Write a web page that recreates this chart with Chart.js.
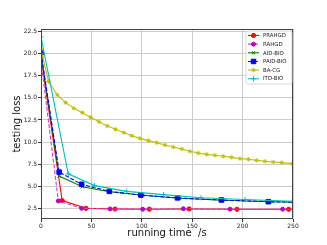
<!DOCTYPE html>
<html>
<head>
<meta charset="utf-8">
<script src="https://cdn.jsdelivr.net/npm/chart.js"></script>
<style>
  html, body { margin: 0; padding: 0; background: #fff; }
  canvas { display: block; }
</style>
</head>
<body>
<canvas id="lossChart" width="327" height="245"></canvas>
<script>
// values
const seriesNames = ['PRAHGD', 'RAHGD', 'AID-BIO', 'PAID-BIO', 'BA-CG', 'ITD-BIO'];

const prahgdTime = [0, 21, 44.6, 73.4, 107.5, 147, 194.4, 245.7, 290];
const prahgdLoss = [19.6, 3.37, 2.5, 2.42, 2.4, 2.43, 2.39, 2.39, 2.38];

const rahgdTime = [0, 17.2, 40.3, 68.5, 100.9, 141.2, 187.5, 239.7, 290];
const rahgdLoss = [19.2, 3.33, 2.5, 2.43, 2.4, 2.45, 2.4, 2.4, 2.38];

const aidTime = [0, 18, 41, 68, 101, 137, 180, 230, 260];
const aidLoss = [20.0, 6.15, 4.95, 4.38, 3.97, 3.64, 3.42, 3.24, 3.18];

const paidTime = [0, 18, 40.3, 67.8, 99, 135.4, 179, 225.5, 260];
const paidLoss = [20.1, 6.6, 5.22, 4.42, 4.0, 3.68, 3.44, 3.25, 3.18];

const bacgTime = [0, 7.5, 16.2, 24.4, 32.7, 41, 49.3, 57.5, 65.8, 74, 82.2, 90, 98.2, 106.5,
  114.8, 123, 131.3, 139.6, 147.8, 156, 164.4, 172.6, 180.9, 189.2, 197.4, 205.7, 214,
  222.2, 230.5, 238.8, 249.3];
const bacgLoss = [20.45, 16.85, 15.33, 14.46, 13.82, 13.33, 12.8, 12.3, 11.82, 11.44, 11.07,
  10.72, 10.42, 10.16, 9.93, 9.67, 9.44, 9.22, 8.95, 8.76, 8.61, 8.5, 8.39, 8.27, 8.12,
  8.05, 7.93, 7.82, 7.74, 7.67, 7.56];

const itdTime = [0, 27, 53, 85, 121.5, 158.7, 202.4, 249.3];
const itdLoss = [21.9, 6.4, 5.07, 4.42, 4.05, 3.7, 3.5, 3.28];

const seriesTime = [prahgdTime, rahgdTime, aidTime, paidTime, bacgTime, itdTime];
const seriesLoss = [prahgdLoss, rahgdLoss, aidLoss, paidLoss, bacgLoss, itdLoss];

const xTicks = [0, 50, 100, 150, 200, 250];
const yTicks = [2.5, 5, 7.5, 10, 12.5, 15, 17.5, 20, 22.5];

// look of each line (matplotlib r, m, g, b, y, c)
const looks = [
  { line: '#ff0000', marker: '#ff0000', point: 'circle', radius: 2.1, dash: [] },
  { line: '#d040d0', marker: '#bf00bf', point: 'circle', radius: 2, dash: [4, 1.8] },
  { line: '#008000', marker: '#008000', point: 'crossRot', radius: 2.3, dash: [] },
  { line: '#0000ff', marker: '#0000ff', point: 'rect', radius: 3.2, dash: [4, 1.8] },
  { line: '#bfbf00', marker: '#bfbf00', point: 'star', radius: 2.2, dash: [] },
  { line: '#00bfbf', marker: '#00bfbf', point: 'cross', radius: 2.6, dash: [] }
];

const font = 'DejaVu Sans';

const datasets = seriesNames.map((name, i) => ({
  label: name,
  data: seriesTime[i].map((t, j) => ({ x: t, y: seriesLoss[i][j] })),
  borderColor: looks[i].line,
  backgroundColor: looks[i].marker,
  borderWidth: 1.1,
  borderDash: looks[i].dash,
  pointStyle: looks[i].point,
  pointRadius: looks[i].radius,
  pointBackgroundColor: looks[i].marker,
  pointBorderColor: looks[i].marker,
  pointBorderWidth: 1,
  tension: 0,
  order: seriesNames.length - i
}));

// axes frame plus a matplotlib style legend in the upper right corner
const frameAndLegend = {
  id: 'frameAndLegend',
  afterDraw(chart) {
    const ctx = chart.ctx;
    const a = chart.chartArea;
    ctx.save();
    ctx.strokeStyle = '#444';
    ctx.lineWidth = 1;
    ctx.strokeRect(a.left + 0.5, a.top + 0.5, a.right - a.left - 1, a.bottom - a.top - 1);

    const box = { x: 246, y: 31, w: 46, h: 53 };
    ctx.beginPath();
    ctx.moveTo(box.x + 2, box.y);
    ctx.arcTo(box.x + box.w, box.y, box.x + box.w, box.y + box.h, 2);
    ctx.arcTo(box.x + box.w, box.y + box.h, box.x, box.y + box.h, 2);
    ctx.arcTo(box.x, box.y + box.h, box.x, box.y, 2);
    ctx.arcTo(box.x, box.y, box.x + box.w, box.y, 2);
    ctx.closePath();
    ctx.fillStyle = 'rgba(255,255,255,0.85)';
    ctx.fill();
    ctx.strokeStyle = '#d0d0d0';
    ctx.lineWidth = 0.8;
    ctx.stroke();

    chart.data.datasets.forEach((ds, i) => {
      const y = 35.5 + i * 8.65;
      ctx.strokeStyle = ds.borderColor;
      ctx.lineWidth = ds.borderWidth;
      ctx.setLineDash(ds.borderDash);
      ctx.beginPath();
      ctx.moveTo(248, y);
      ctx.lineTo(259, y);
      ctx.stroke();
      ctx.setLineDash([]);
      ctx.fillStyle = ds.pointBackgroundColor;
      ctx.strokeStyle = ds.pointBorderColor;
      ctx.lineWidth = 1;
      if (Chart.helpers && Chart.helpers.drawPoint) {
        Chart.helpers.drawPoint(ctx, { pointStyle: ds.pointStyle, radius: ds.pointRadius, borderWidth: 1, rotation: 0 }, 253.5, y);
      }
      ctx.fillStyle = '#222';
      ctx.font = '5.4px "' + font + '"';
      ctx.textBaseline = 'middle';
      ctx.textAlign = 'left';
      ctx.fillText(ds.label, 263, y + 0.3);
    });
    ctx.restore();
  }
};

new Chart(document.getElementById('lossChart'), {
  type: 'line',
  data: { datasets },
  options: {
    responsive: false,
    animation: false,
    devicePixelRatio: 1,
    layout: { padding: { left: 0, top: 29, right: 34, bottom: 0 } },
    plugins: {
      legend: { display: false },
      tooltip: { enabled: false }
    },
    scales: {
      x: {
        type: 'linear',
        min: 0,
        max: 250,
        afterBuildTicks: s => { s.ticks = xTicks.map(v => ({ value: v })); },
        afterFit: s => { s.height = 26; },
        border: { display: false },
        grid: { color: '#cccccc', lineWidth: 1, tickColor: '#333', tickLength: 3 },
        ticks: { font: { family: font, size: 6 }, color: '#222', padding: 1, maxRotation: 0, autoSkip: false },
        title: {
          display: true,
          text: 'running time  /s',
          font: { family: font, size: 10 },
          color: '#111',
          padding: { top: 0, bottom: 6 }
        }
      },
      y: {
        min: 1.29,
        max: 22.8,
        afterBuildTicks: s => { s.ticks = yTicks.map(v => ({ value: v })); },
        afterFit: s => { s.width = 41; },
        border: { display: false },
        grid: { color: '#cccccc', lineWidth: 1, tickColor: '#333', tickLength: 3 },
        ticks: {
          font: { family: font, size: 6 },
          color: '#222',
          padding: 1,
          autoSkip: false,
          callback: v => v.toFixed(1)
        },
        title: {
          display: true,
          text: 'testing loss',
          font: { family: font, size: 10 },
          color: '#111',
          padding: { top: 11, bottom: 0 }
        }
      }
    }
  },
  plugins: [frameAndLegend]
});
</script>
</body>
</html>
